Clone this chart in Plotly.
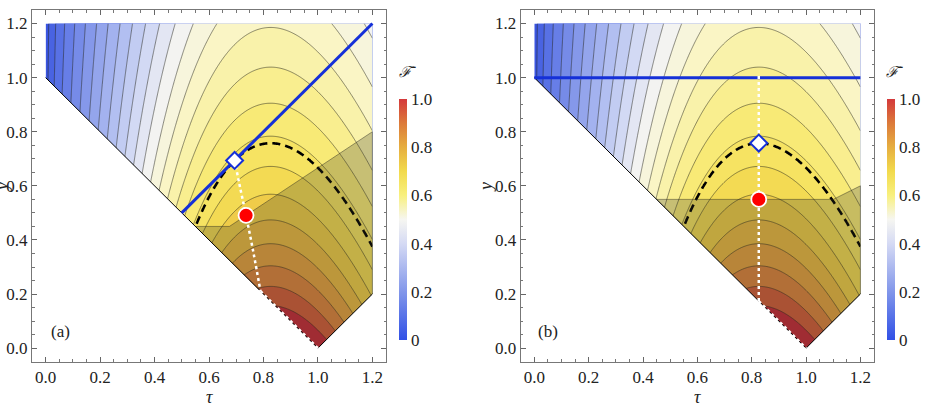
import numpy as np
import plotly.graph_objects as go

# ---------------- values ----------------
nbar = 5.0                      # ensemble width: apex of every contour at tau ~ 0.826
tau_grid = np.round(np.arange(0, 1.2001, 0.004), 4)
y_grid = np.round(np.arange(0, 1.2001, 0.004), 4)
n_contours = 25                 # thin contour lines, equally spaced in F
dashed_level = 0.75             # black dashed contour

# boundary of the physical region  y >= |1 - tau|
boundary_tau = [0.0, 1.0, 1.2]
boundary_y = [1.0, 0.0, 0.2]

# shaded (grey) regions
shade_a_tau = [0.55, 0.675, 1.2, 1.2, 1.0, 0.55]
shade_a_y = [0.45, 0.45, 0.8, 0.2, 0.0, 0.45]
shade_b_tau = [0.45, 1.1, 1.2, 1.2, 1.0, 0.45]
shade_b_y = [0.55, 0.55, 0.6, 0.2, 0.0, 0.55]

# blue lines
blue_a_tau = [0.5, 1.2]
blue_a_y = [0.5, 1.2]
blue_b_tau = [0.0, 1.2]
blue_b_y = [1.0, 1.0]

# white dotted paths
dot_a_tau = [0.694, 0.715, 0.736, 0.764, 0.789]
dot_a_y = [0.694, 0.59, 0.491, 0.349, 0.211]
edge_a_tau = [0.789, 1.0]
edge_a_y = [0.211, 0.0]
dot_b_tau = [0.826, 0.826]
dot_b_y = [1.006, 0.174]
edge_b_tau = [0.826, 1.0]
edge_b_y = [0.174, 0.0]

# markers
diamond_a = (0.694, 0.694)
circle_a = (0.736, 0.491)
diamond_b = (0.826, 0.758)
circle_b = (0.826, 0.55)

tick_vals = [0.0, 0.2, 0.4, 0.6, 0.8, 1.0, 1.2]
cbar_vals = [0, 0.2, 0.4, 0.6, 0.8, 1.0]
cbar_text = ["0", "0.2", "0.4", "0.6", "0.8", "1.0"]

# colours of the filled bands (position = scaled value between min and max of F)
fill_scale = [
    [0.0, "#3a55e0"], [0.1, "#5f78e6"], [0.2, "#8598ea"], [0.3, "#aab8f0"],
    [0.4, "#d2d9f4"], [0.48, "#f3f3f1"], [0.55, "#faf6cc"], [0.62, "#f9f09c"],
    [0.7, "#f7e86a"], [0.78, "#f2d64c"], [0.85, "#e9b442"], [0.9, "#e19440"],
    [0.95, "#d66a3a"], [1.0, "#c42a38"],
]
# colours of the legend bar
bar_scale = [
    [0.0, "#3150e6"], [0.1, "#5873e8"], [0.2, "#8196ea"], [0.3, "#abb8ef"],
    [0.4, "#d5daf4"], [0.5, "#f6f6f1"], [0.6, "#f8f07e"], [0.7, "#f2da4c"],
    [0.8, "#e6ae40"], [0.9, "#dc7a3a"], [1.0, "#d4393b"],
]

FONT = "Liberation Serif"

# ---------------- field ----------------
T, Y = np.meshgrid(tau_grid, y_grid)
Z = 2.0 / (1.0 + T + Y + 2.0 * nbar * (1.0 - np.sqrt(T)) ** 2)
fmin = float(2.0 / (1.0 + 0.0 + 1.2 + 2.0 * nbar))
fmax = 1.0
step = (fmax - fmin) / (n_contours + 1)

fig = go.Figure()

for k, (xa, ya) in enumerate([("x", "y"), ("x2", "y2")]):
    fig.add_trace(go.Contour(
        x=tau_grid, y=y_grid, z=Z, xaxis=xa, yaxis=ya,
        colorscale=fill_scale, zauto=False, zmin=fmin, zmax=fmax,
        contours=dict(start=fmin + step, end=fmin + n_contours * step + 1e-9,
                      size=step, coloring="fill", showlines=True),
        line=dict(color="rgba(40,40,30,0.75)", width=0.7, smoothing=1),
        showscale=False, hoverinfo="skip"))
    fig.add_trace(go.Contour(
        x=tau_grid, y=y_grid, z=Z, xaxis=xa, yaxis=ya,
        contours=dict(start=dashed_level, end=dashed_level, size=1,
                      coloring="lines"),
        colorscale=[[0, "black"], [1, "black"]],
        line=dict(color="black", width=2.6, dash="8px,5px"),
        showscale=False, hoverinfo="skip"))

panels = [
    dict(xa="x", ya="y", shade=(shade_a_tau, shade_a_y), blue=(blue_a_tau, blue_a_y),
         dot=(dot_a_tau, dot_a_y), edge=(edge_a_tau, edge_a_y),
         diamond=diamond_a, circle=circle_a),
    dict(xa="x2", ya="y2", shade=(shade_b_tau, shade_b_y), blue=(blue_b_tau, blue_b_y),
         dot=(dot_b_tau, dot_b_y), edge=(edge_b_tau, edge_b_y),
         diamond=diamond_b, circle=circle_b),
]

mask_tau = [-0.01, -0.01] + boundary_tau + [1.21, 1.21]
mask_y = [-0.01, 1.0] + boundary_y + [0.2, -0.01]

for p in panels:
    xa, ya = p["xa"], p["ya"]
    fig.add_trace(go.Scatter(x=p["shade"][0], y=p["shade"][1], xaxis=xa, yaxis=ya,
                             mode="lines", fill="toself",
                             fillcolor="rgba(50,50,35,0.25)",
                             line=dict(color="rgba(40,40,30,0.45)", width=1),
                             hoverinfo="skip", showlegend=False))
    fig.add_trace(go.Scatter(x=mask_tau, y=mask_y, xaxis=xa, yaxis=ya,
                             mode="lines", fill="toself", fillcolor="white",
                             line=dict(color="white", width=0),
                             hoverinfo="skip", showlegend=False))
    fig.add_trace(go.Scatter(x=boundary_tau, y=boundary_y, xaxis=xa, yaxis=ya,
                             mode="lines", line=dict(color="black", width=1),
                             hoverinfo="skip", showlegend=False))
    fig.add_trace(go.Scatter(x=p["blue"][0], y=p["blue"][1], xaxis=xa, yaxis=ya,
                             mode="lines", line=dict(color="#1530d8", width=3),
                             hoverinfo="skip", showlegend=False))
    for path in (p["dot"], p["edge"]):
        fig.add_trace(go.Scatter(x=path[0], y=path[1], xaxis=xa, yaxis=ya,
                                 mode="lines",
                                 line=dict(color="white", width=2.5, dash="dot",
                                           shape="spline"),
                                 hoverinfo="skip", showlegend=False))
    fig.add_trace(go.Scatter(x=[p["diamond"][0]], y=[p["diamond"][1]], xaxis=xa, yaxis=ya,
                             mode="markers",
                             marker=dict(symbol="diamond", size=13, color="white",
                                         line=dict(color="#1530d8", width=2)),
                             hoverinfo="skip", showlegend=False))
    fig.add_trace(go.Scatter(x=[p["circle"][0]], y=[p["circle"][1]], xaxis=xa, yaxis=ya,
                             mode="markers",
                             marker=dict(symbol="circle", size=15, color="#ff0000",
                                         line=dict(color="white", width=1.8)),
                             hoverinfo="skip", showlegend=False))

# colour bars
for xa, ya, cx in [("x", "y", 399 / 928), ("x2", "y2", 887 / 928)]:
    fig.add_trace(go.Scatter(
        x=[None], y=[None], xaxis=xa, yaxis=ya, mode="markers",
        marker=dict(color=[0], colorscale=bar_scale, cmin=0, cmax=1, showscale=True,
                    colorbar=dict(x=cx, xanchor="left", xpad=0, ypad=0,
                                  y=1 - 219.5 / 410, yanchor="middle",
                                  len=241 / 410, lenmode="fraction", thickness=8,
                                  outlinewidth=0, ticks="", tickvals=cbar_vals,
                                  ticktext=cbar_text, ticklabelposition="outside",
                                  tickfont=dict(family=FONT, size=17, color="#222"))),
        hoverinfo="skip", showlegend=False))

axis_common = dict(range=[-0.05, 1.25], tickvals=tick_vals, tickformat=".1f",
                   ticks="inside", ticklen=5, tickcolor="#666", tickwidth=1,
                   showline=True, linecolor="#777", linewidth=1, mirror="allticks",
                   minor=dict(dtick=0.05, ticks="inside", ticklen=2.5, tickcolor="#777"),
                   showgrid=False, zeroline=False,
                   tickfont=dict(family=FONT, size=17, color="#222"))

ydom = [1 - 361.7 / 410, 1 - 10 / 410]
fig.update_layout(
    width=928, height=410, margin=dict(l=0, r=0, t=0, b=0),
    paper_bgcolor="white", plot_bgcolor="white", showlegend=False,
    font=dict(family=FONT),
    xaxis=dict(domain=[32 / 928, 386 / 928], anchor="y", **axis_common),
    yaxis=dict(domain=ydom, anchor="x", **axis_common),
    xaxis2=dict(domain=[520.7 / 928, 874 / 928], anchor="y2", **axis_common),
    yaxis2=dict(domain=ydom, anchor="x2", **axis_common),
)

ann = []
for cx, lab, lx in [(209, "(a)", 60), (697, "(b)", 548)]:
    ann.append(dict(x=cx / 928, y=1 - 397 / 410, xref="paper", yref="paper",
                    text="<i>τ</i>", showarrow=False, xanchor="center", yanchor="middle",
                    font=dict(family=FONT, size=18, color="#222")))
    ann.append(dict(x=lx / 928, y=1 - 331 / 410, xref="paper", yref="paper",
                    text=lab, showarrow=False, xanchor="center", yanchor="middle",
                    font=dict(family=FONT, size=17, color="#222")))
for xpx in (2, 486):
    ann.append(dict(x=xpx / 928, y=1 - 187 / 410, xref="paper", yref="paper",
                    text="<i>y</i>", showarrow=False, textangle=-90,
                    xanchor="center", yanchor="middle",
                    font=dict(family=FONT, size=18, color="#222")))
for xpx in (407, 894):
    ann.append(dict(x=xpx / 928, y=1 - 72 / 410, xref="paper", yref="paper",
                    text="<i>ℱ̄</i>", showarrow=False, xanchor="center", yanchor="middle",
                    font=dict(family="DejaVu Serif", size=15, color="#222")))
fig.update_layout(annotations=ann)

fig.write_html("out.html")
